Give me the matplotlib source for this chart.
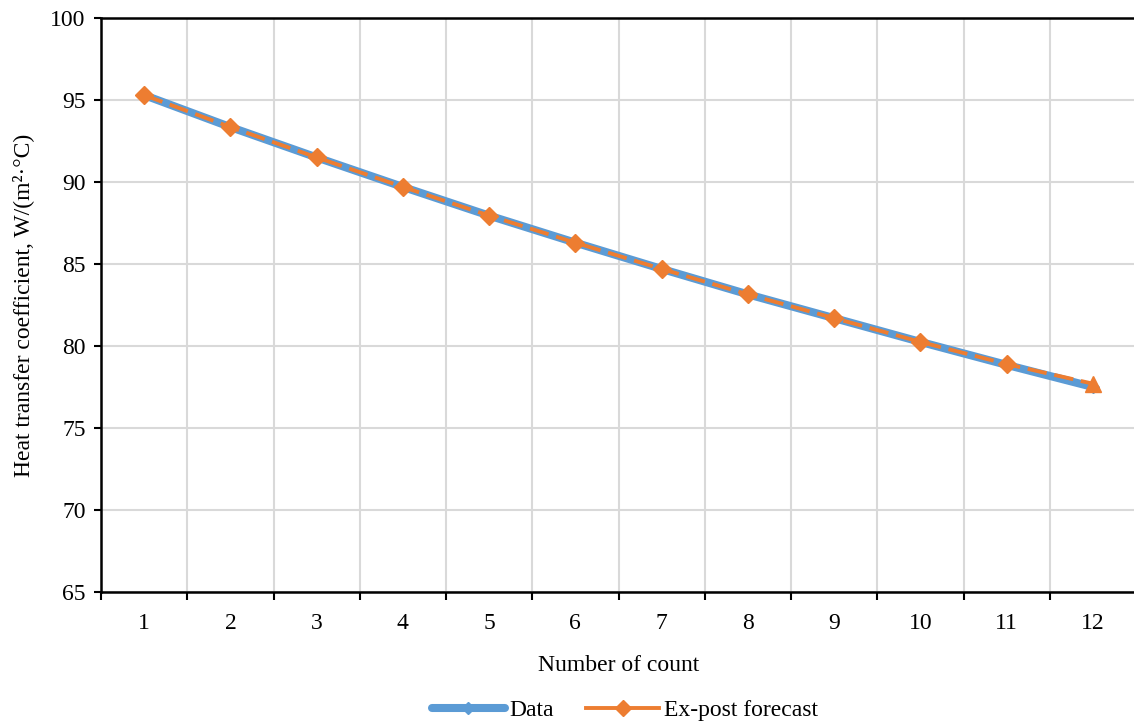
import matplotlib
matplotlib.use("Agg")
import matplotlib.pyplot as plt
from matplotlib.lines import Line2D
from matplotlib.ticker import FixedLocator

plt.rcParams["font.family"] = ["Liberation Serif", "DejaVu Serif"]

# data
counts = [1, 2, 3, 4, 5, 6, 7, 8, 9, 10, 11, 12]
data_values = [95.3, 93.35, 91.5, 89.7, 87.95, 86.3, 84.7, 83.15, 81.7, 80.25, 78.85, 77.5]
forecast_values = [95.3, 93.35, 91.5, 89.7, 87.95, 86.3, 84.7, 83.15, 81.7, 80.25, 78.9, 77.7]
y_ticks = [65, 70, 75, 80, 85, 90, 95, 100]

BLUE = "#5B9BD5"
ORANGE = "#ED7D31"
GRID = "#D9D9D9"
FS = 17

fig = plt.figure(figsize=(11.34, 7.22), dpi=100)
ax = fig.add_axes([101 / 1134, 130 / 722, 1035 / 1134, 574 / 722])

ax.plot(counts, data_values, color=BLUE, lw=5.8, marker="D", ms=6,
        mfc=BLUE, mec=BLUE, solid_capstyle="round", zorder=3)
ax.plot(counts, forecast_values, color=ORANGE, lw=2.8, ls=(0, (5, 2)),
        marker="D", ms=9.5, mfc=ORANGE, mec=ORANGE, markevery=list(range(len(counts) - 1)),
        zorder=4)
# last forecast point drawn with a triangle, as in the source
ax.plot(counts[-1:], forecast_values[-1:], ls="none", marker="^", ms=11,
        mfc=ORANGE, mec=ORANGE, zorder=5)

ax.set_xlim(0.5, 12.5)
ax.set_ylim(65, 100)

ax.set_xticks(counts)
ax.set_xticklabels([str(c) for c in counts])
ax.xaxis.set_minor_locator(FixedLocator([c + 0.5 for c in range(0, 13)]))
ax.tick_params(axis="x", which="major", length=0, pad=15, labelsize=FS)
ax.tick_params(axis="x", which="minor", length=6, width=1.5, direction="out")
ax.set_yticks(y_ticks)
ax.tick_params(axis="y", which="major", length=5, width=1.5, direction="out",
               pad=6, labelsize=FS)

ax.grid(True, axis="x", which="minor", color=GRID, lw=1.5)
ax.grid(True, axis="y", which="major", color=GRID, lw=1.5)
ax.set_axisbelow(True)

for side in ("left", "bottom", "top"):
    ax.spines[side].set_linewidth(1.8)
    ax.spines[side].set_color("black")
ax.spines["right"].set_visible(False)

ax.set_xlabel("Number of count", fontsize=FS, labelpad=15)
ax.set_ylabel("Heat transfer coefficient, W/(m²·°C)", fontsize=FS, labelpad=12)

# Excel-style legend keys: solid line with a diamond in the middle
handles = [
    Line2D([], [], color=BLUE, lw=5.8, marker="D", ms=6, solid_capstyle="round"),
    Line2D([], [], color=ORANGE, lw=2.8, marker="D", ms=8),
]
fig.legend(handles, ["Data", "Ex-post forecast"], loc="center",
           bbox_to_anchor=(0.551, 1 - 710 / 722), ncol=2, frameon=False,
           fontsize=FS, handlelength=3.1, columnspacing=1.35, handletextpad=0.2,
           borderpad=0, borderaxespad=0)

fig.savefig("out.png", dpi=100)
